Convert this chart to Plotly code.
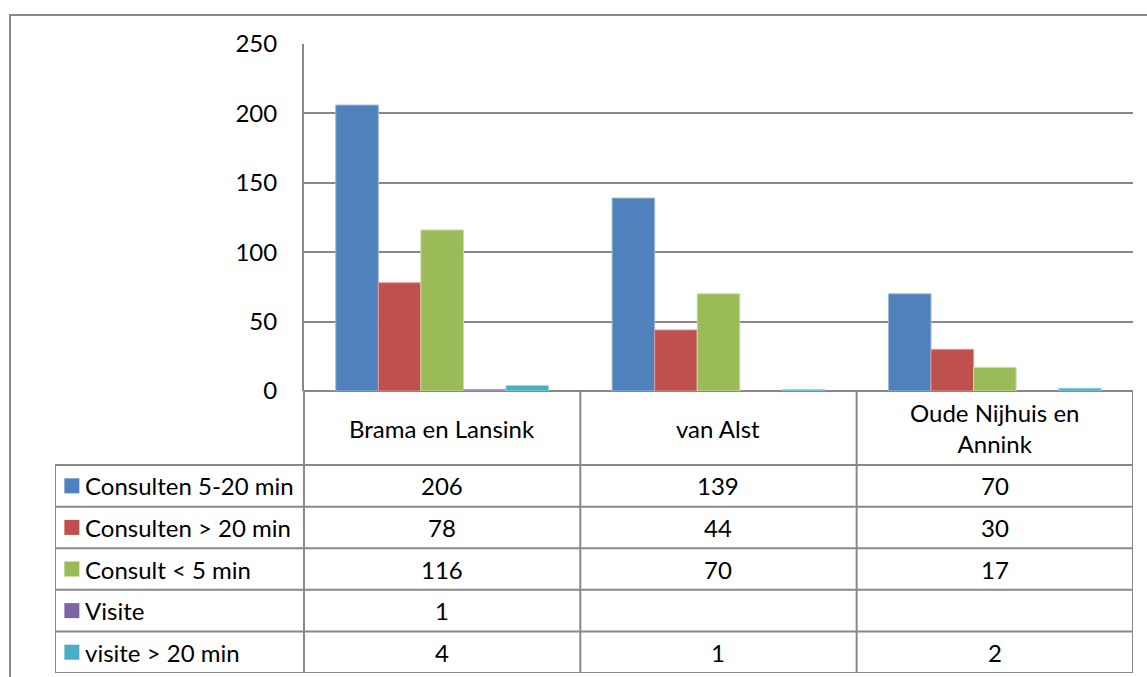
import plotly.graph_objects as go

W, H = 1147, 677

categories = ["Brama en Lansink", "van Alst", "Oude Nijhuis en<br>Annink"]
series_names = ["Consulten 5-20 min", "Consulten > 20 min", "Consult < 5 min",
                "Visite", "visite > 20 min"]
consulten_5_20 = [206, 139, 70]
consulten_gt20 = [78, 44, 30]
consult_lt5 = [116, 70, 17]
visite = [1, None, None]
visite_gt20 = [4, 1, 2]
y_ticks = [0, 50, 100, 150, 200, 250]

series_values = [consulten_5_20, consulten_gt20, consult_lt5, visite, visite_gt20]
colors = ["#4F81BD", "#C0504D", "#9BBB59", "#8064A2", "#4BACC6"]
edges = ["#9DB7DA", "#DA9A98", "#C7DBA6", "#B3A2C9", "#9DD4E1"]

FONT = "Lato"
FS = 24
GRID = "#888888"


def px_x(p):
    return p / W


def px_y(p):
    return 1 - p / H


fig = go.Figure()

# -----------------------
# bars
# -----------------------
x_idx = list(range(len(categories)))
for name, vals, c, e in zip(series_names, series_values, colors, edges):
    fig.add_trace(go.Bar(
        x=x_idx, y=vals, name=name,
        marker=dict(color=c, line=dict(color=e, width=1)),
        xaxis="x", yaxis="y", showlegend=False,
    ))

# -----------------------
# data table below the plot
# -----------------------
header_h = 1.78
n_rows = len(series_names)
y_bottom = header_h + n_rows
legend_left = -1.401

shapes = []
line = dict(color=GRID, width=2)
# vertical lines
for xv in [-0.5, 0.5, 1.5, 2.5]:
    shapes.append(dict(type="line", xref="x2", yref="y2", x0=xv, x1=xv,
                       y0=0, y1=y_bottom, line=line))
shapes.append(dict(type="line", xref="x2", yref="y2", x0=legend_left, x1=legend_left,
                   y0=header_h, y1=y_bottom, line=line))
# horizontal lines
for r in range(n_rows + 1):
    yv = header_h + r
    shapes.append(dict(type="line", xref="x2", yref="y2", x0=legend_left, x1=2.5,
                       y0=yv, y1=yv, line=line))

txt_font = dict(size=FS, color="black", family=FONT)
annotations = []
for i, cat in enumerate(categories):
    annotations.append(dict(x=i, y=header_h / 2, xref="x2", yref="y2", text=cat,
                            showarrow=False, font=txt_font))

for r, (name, vals, c) in enumerate(zip(series_names, series_values, colors)):
    yc = header_h + r + 0.5
    annotations.append(dict(x=legend_left, y=yc, xref="x2", yref="y2",
                            text=name, showarrow=False, xanchor="left", xshift=28,
                            font=txt_font))
    fig.add_trace(go.Scatter(
        x=[legend_left + 0.061], y=[yc], mode="markers",
        marker=dict(symbol="square", size=15, color=c),
        xaxis="x2", yaxis="y2", showlegend=False, hoverinfo="skip",
        cliponaxis=False,
    ))
    for i, v in enumerate(vals):
        if v is None:
            continue
        annotations.append(dict(x=i, y=yc, xref="x2", yref="y2", text=str(v),
                                showarrow=False, font=txt_font))

# outer chart border
shapes.append(dict(type="rect", xref="paper", yref="paper",
                   x0=px_x(10), x1=1.05, y0=-0.05, y1=px_y(15),
                   line=dict(color=GRID, width=2), layer="below"))

fig.update_layout(
    width=W, height=H,
    margin=dict(l=0, r=0, t=0, b=0, autoexpand=False),
    paper_bgcolor="white", plot_bgcolor="white",
    barmode="group", bargap=0.23, bargroupgap=0,
    font=dict(family=FONT, size=FS, color="black"),
    xaxis=dict(domain=[px_x(304), px_x(1133)], range=[-0.5, 2.5],
               showticklabels=False, showgrid=False, zeroline=False,
               showline=False, fixedrange=True),
    yaxis=dict(domain=[px_y(391), px_y(44)], range=[0, 250],
               tickvals=y_ticks, showgrid=True, gridcolor=GRID, gridwidth=2,
               zeroline=True, zerolinecolor=GRID, zerolinewidth=2,
               showline=True, linecolor=GRID, linewidth=2,
               ticks="", ticklabelstandoff=20,
               tickfont=txt_font),
    xaxis2=dict(domain=[px_x(55), px_x(1133)], range=[legend_left, 2.5],
                visible=False, fixedrange=True),
    yaxis2=dict(domain=[px_y(673), px_y(391)], range=[y_bottom, 0],
                visible=False, fixedrange=True),
    shapes=shapes,
    annotations=annotations,
)

fig.write_html("out.html", config={"displayModeBar": False},
               post_script="document.body.style.margin='0';")
